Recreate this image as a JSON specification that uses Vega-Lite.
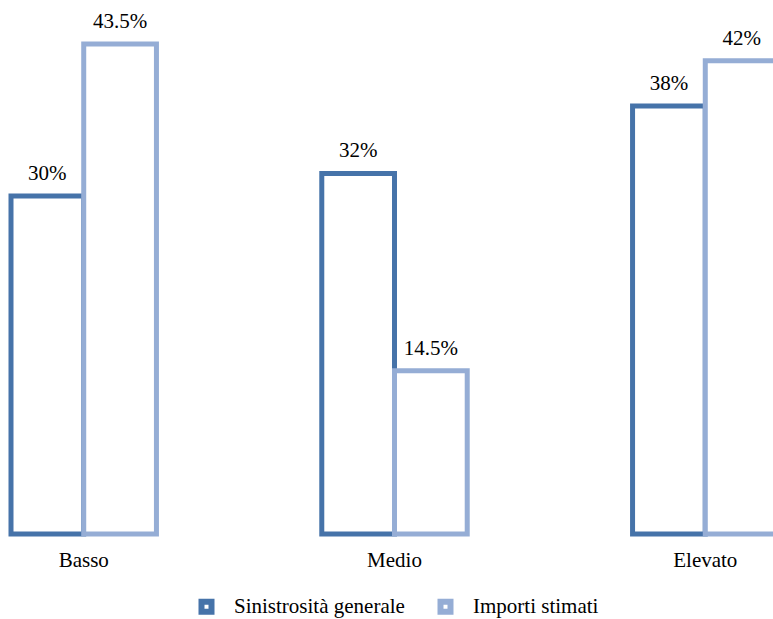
{
  "$schema": "https://vega.github.io/schema/vega-lite/v6.json",
  "width": 773,
  "height": 534,
  "padding": {"left": 0, "top": 0, "right": 0, "bottom": 85},
  "autosize": {"type": "none"},
  "background": "white",
  "config": {
    "view": {"stroke": null},
    "font": "Liberation Serif"
  },
  "data": {
    "values": [
      {"livello": "Basso", "serie": "Sinistrosità generale", "valore": 30, "etichetta": "30%"},
      {"livello": "Basso", "serie": "Importi stimati", "valore": 43.5, "etichetta": "43.5%"},
      {"livello": "Medio", "serie": "Sinistrosità generale", "valore": 32, "etichetta": "32%"},
      {"livello": "Medio", "serie": "Importi stimati", "valore": 14.5, "etichetta": "14.5%"},
      {"livello": "Elevato", "serie": "Sinistrosità generale", "valore": 38, "etichetta": "38%"},
      {"livello": "Elevato", "serie": "Importi stimati", "valore": 42, "etichetta": "42%"}
    ]
  },
  "encoding": {
    "x": {
      "field": "livello",
      "type": "nominal",
      "sort": ["Basso", "Medio", "Elevato"],
      "scale": {"range": [0, 789], "paddingInner": 0.532, "paddingOuter": 0.0354},
      "axis": {
        "title": null,
        "domain": false,
        "ticks": false,
        "labelAngle": 0,
        "labelPadding": 15,
        "labelFont": "Liberation Serif",
        "labelFontSize": 21,
        "labelColor": "#000000"
      }
    },
    "xOffset": {
      "field": "serie",
      "type": "nominal",
      "sort": ["Sinistrosità generale", "Importi stimati"],
      "scale": {"paddingInner": 0, "paddingOuter": 0}
    },
    "y": {
      "field": "valore",
      "type": "quantitative",
      "scale": {"domain": [0, 47.4], "nice": false},
      "axis": null
    }
  },
  "layer": [
    {
      "mark": {"type": "bar", "fill": "white", "strokeWidth": 5, "strokeJoin": "miter"},
      "encoding": {
        "stroke": {
          "field": "serie",
          "type": "nominal",
          "sort": ["Sinistrosità generale", "Importi stimati"],
          "scale": {"domain": ["Sinistrosità generale", "Importi stimati"], "range": ["#4673A9", "#95ADD5"]},
          "legend": {
            "title": null,
            "orient": "none",
            "direction": "horizontal",
            "legendX": 196,
            "legendY": 596,
            "symbolType": "square",
            "symbolSize": 100,
            "symbolStrokeWidth": 6,
            "symbolFillColor": "white",
            "labelFont": "Liberation Serif",
            "labelFontSize": 21,
            "labelColor": "#000000",
            "labelLimit": 400,
            "labelOffset": 17,
            "columnPadding": 23
          }
        }
      }
    },
    {
      "mark": {"type": "text", "baseline": "alphabetic", "dy": -16, "font": "Liberation Serif", "fontSize": 21, "color": "#000000"},
      "encoding": {
        "text": {"field": "etichetta"}
      }
    }
  ]
}
